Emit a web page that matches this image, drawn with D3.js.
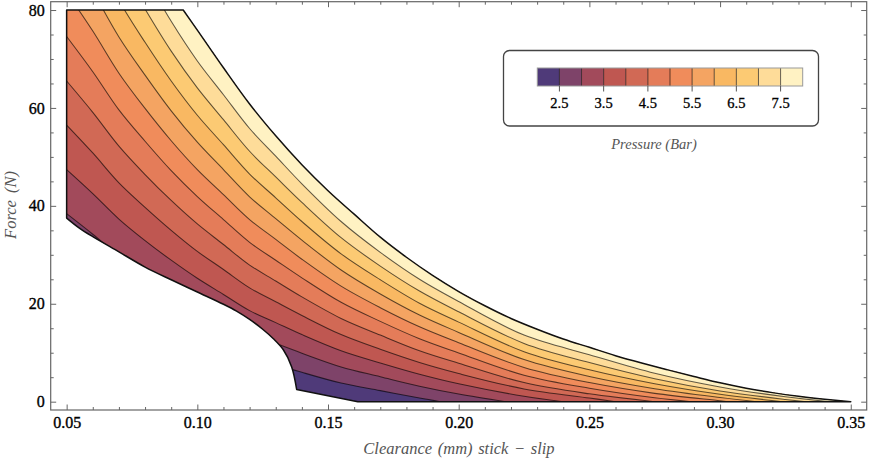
<!DOCTYPE html>
<html><head><meta charset="utf-8">
<script src="https://cdn.jsdelivr.net/npm/d3@7"></script>
<style>html,body{margin:0;padding:0;background:#fff;} svg{display:block;}</style>
</head><body>
<svg id="chart" width="869" height="463"></svg>
<script>
// ---------------- data ----------------
const xMajorTicks = [0.05, 0.10, 0.15, 0.20, 0.25, 0.30, 0.35];
const yMajorTicks = [0, 20, 40, 60, 80];
const legendTickValues = [2.5, 3.5, 4.5, 5.5, 6.5, 7.5];
const levels = [2.5, 3.0, 3.5, 4.0, 4.5, 5.0, 5.5, 6.0, 6.5, 7.0, 7.5];
const bandEdges = [2.0, 2.5, 3.0, 3.5, 4.0, 4.5, 5.0, 5.5, 6.0, 6.5, 7.0, 7.5, 8.0];
const bandColors = ["#4f3a79", "#7e4369", "#a24a5b", "#bf5751", "#d16955", "#e47c59",
                    "#f08c5b", "#f4a462", "#f9b862", "#fcca73", "#fedc99", "#fff2c3"];

// outer boundary of the feasible region (Pressure = 8 bar edge)
const upperEdge = [[0.0946,80],[0.10,75.9],[0.11,68.2],[0.12,60.8],[0.13,54.3],[0.14,48.4],[0.15,43.1],
  [0.16,38.3],[0.17,33.6],[0.18,29.5],[0.19,25.8],[0.20,22.5],[0.21,19.6],[0.22,17.0],[0.23,14.8],
  [0.24,12.8],[0.25,11.1],[0.26,9.4],[0.27,7.9],[0.28,6.5],[0.29,5.15],[0.30,3.85],[0.31,2.75],
  [0.32,1.85],[0.33,1.1],[0.34,0.5],[0.35,0]];
// stick-slip limit (lower-left edge)
const lowerEdge = [[0.05,37.5],[0.055,35.4],[0.06,33.7],[0.07,30.6],[0.08,27.5],[0.09,24.9],[0.10,22.4],
  [0.11,19.9],[0.115,18.5],[0.12,16.8],[0.125,14.8],[0.129,12.9],[0.1329,10.6],[0.1361,7.1],[0.1380,2.5]];
const lowerFoot = [0.1614, 0];
const leftTop = [0.05, 80];

// contour lines (Clearance mm, Force N)
const contour25 = [[0.05,29.3],[0.06,25.9],[0.07,22.4],[0.08,19.4],[0.09,16.7],[0.10,14.1],[0.11,11.7],[0.12,9.3],[0.13,7.65],[0.14,6.0],[0.155,3.8],[0.17,2.26],[0.185,0.73],[0.193,0]];
const contour30 = [[0.05,38.4],[0.06,34.2],[0.07,29.8],[0.08,26.2],[0.09,22.8],[0.10,19.6],[0.11,16.8],[0.12,13.95],[0.13,11.9],[0.14,9.9],[0.155,7.1],[0.17,5.1],[0.185,3.15],[0.20,1.55],[0.218,0]];
const contour35 = [[0.05,47.4],[0.06,42.5],[0.07,37.3],[0.08,32.9],[0.09,28.9],[0.10,25.2],[0.11,21.9],[0.12,18.6],[0.13,16.15],[0.14,13.7],[0.155,10.4],[0.17,7.9],[0.185,5.6],[0.20,3.65],[0.225,1.1],[0.24,0]];
const contour40 = [[0.05,56.5],[0.06,50.8],[0.07,44.7],[0.08,39.7],[0.09,35.0],[0.10,30.7],[0.11,27.0],[0.12,23.25],[0.13,20.4],[0.14,17.6],[0.155,13.7],[0.17,10.7],[0.185,8.0],[0.20,5.75],[0.225,2.6],[0.25,0.75],[0.26,0]];
const contour45 = [[0.05,65.5],[0.06,59.1],[0.07,52.2],[0.08,46.4],[0.09,41.1],[0.10,36.3],[0.11,32.1],[0.12,27.9],[0.13,24.65],[0.14,21.4],[0.155,17.0],[0.17,13.6],[0.185,10.4],[0.20,7.85],[0.225,3.9],[0.25,1.6],[0.275,0]];
const contour50 = [[0.05,74.6],[0.06,67.4],[0.07,59.6],[0.08,53.2],[0.09,47.2],[0.10,41.9],[0.11,37.2],[0.12,32.55],[0.13,28.9],[0.14,25.3],[0.155,20.3],[0.17,16.4],[0.185,12.85],[0.20,9.95],[0.225,5.4],[0.25,2.75],[0.275,0.8],[0.289,0]];
const contour55 = [[0.05,83.6],[0.06,75.7],[0.07,67.1],[0.08,59.9],[0.09,53.3],[0.10,47.4],[0.11,42.3],[0.12,37.2],[0.13,33.15],[0.14,29.1],[0.155,23.6],[0.17,19.2],[0.185,15.3],[0.20,12.05],[0.225,7.0],[0.25,3.9],[0.275,1.7],[0.30,0.2],[0.303,0]];
const contour60 = [[0.06,84.0],[0.07,74.5],[0.08,66.7],[0.09,59.4],[0.10,53.0],[0.11,47.4],[0.12,41.85],[0.13,37.4],[0.14,33.0],[0.155,26.9],[0.17,22.0],[0.185,17.7],[0.20,14.15],[0.225,8.6],[0.25,5.15],[0.275,2.65],[0.30,0.85],[0.314,0]];
const contour65 = [[0.06,92.3],[0.07,81.95],[0.08,73.4],[0.09,65.5],[0.10,58.5],[0.11,52.5],[0.12,46.5],[0.13,41.65],[0.14,36.8],[0.155,30.2],[0.17,24.9],[0.185,20.1],[0.20,16.25],[0.225,10.2],[0.25,6.5],[0.275,3.65],[0.30,1.5],[0.324,0]];
const contour70 = [[0.07,89.4],[0.08,80.2],[0.09,71.6],[0.10,64.1],[0.11,57.6],[0.12,51.15],[0.13,45.9],[0.14,40.7],[0.155,33.5],[0.17,27.7],[0.185,22.6],[0.20,18.35],[0.225,11.9],[0.25,8.0],[0.275,4.7],[0.30,2.2],[0.325,0.45],[0.333,0]];
const contour75 = [[0.08,86.9],[0.09,77.7],[0.10,69.6],[0.11,62.7],[0.12,55.8],[0.13,50.15],[0.14,44.5],[0.155,36.8],[0.17,30.5],[0.185,25.0],[0.20,20.45],[0.225,13.6],[0.25,9.6],[0.275,5.8],[0.30,3.0],[0.325,1.0],[0.342,0]];
const contours = [contour25, contour30, contour35, contour40, contour45, contour50,
                  contour55, contour60, contour65, contour70, contour75];

const xLabel = "Clearance (mm) stick \u2212 slip";
const yLabel = "Force (N)";
const legendTitle = "Pressure (Bar)";

// ---------------- layout ----------------
const frame = {left: 50.7, right: 866.7, top: 1.7, bottom: 410};
const xS = d3.scaleLinear().domain([0.0439, 0.3561]).range([frame.left, frame.right]);
const yS = d3.scaleLinear().domain([-1.7, 81.7]).range([frame.bottom, frame.top]);
const serif = "'Liberation Serif','Times New Roman',serif";

const svg = d3.select("#chart");
const lg = d3.line().x(d => xS(d[0])).y(d => yS(d[1])).curve(d3.curveCatmullRom.alpha(0.5));
const seg = pts => lg(pts).replace(/^M/, "L");
const P = (x, y) => `${xS(x)},${yS(y)}`;

const regionD = `M${P(leftTop[0], leftTop[1])}` + seg(upperEdge) +
  `L${P(lowerFoot[0], lowerFoot[1])}` + seg(lowerEdge.slice().reverse()) + "Z";

svg.append("defs").append("clipPath").attr("id", "region")
  .append("path").attr("d", regionD);

const plot = svg.append("g").attr("clip-path", "url(#region)");
plot.append("path").attr("d", regionD).attr("fill", bandColors[0]);

contours.forEach((pts, i) => {
  const last = pts[pts.length - 1];
  const d = `M${P(0.04, pts[0][1])}` + seg(pts) +
    `L${P(last[0] + 0.003, -5)}L${P(0.40, -5)}L${P(0.40, 200)}L${P(0.04, 200)}Z`;
  plot.append("path").attr("d", d).attr("fill", bandColors[i + 1]);
});
contours.forEach(pts => {
  plot.append("path").attr("d", lg(pts)).attr("fill", "none")
    .attr("stroke", "#000").attr("stroke-opacity", 0.62).attr("stroke-width", 1.05);
});
svg.append("path").attr("d", regionD).attr("fill", "none")
  .attr("stroke", "#111").attr("stroke-width", 1.5).attr("stroke-linejoin", "round");

// ---------------- frame & ticks ----------------
const frameColor = "#666";
svg.append("rect").attr("x", frame.left).attr("y", frame.top)
  .attr("width", frame.right - frame.left).attr("height", frame.bottom - frame.top)
  .attr("fill", "none").attr("stroke", frameColor).attr("stroke-width", 1.2);

const xMinor = d3.range(5, 36).map(v => v / 100).filter(v => !xMajorTicks.some(m => Math.abs(m - v) < 1e-9));
const yMinor = d3.range(0, 81, 5).filter(v => !yMajorTicks.includes(v));

function styleAxis(g) {
  g.select(".domain").remove();
  g.selectAll("line").attr("stroke", frameColor);
  g.selectAll("text").attr("font-family", serif).attr("font-size", 16).attr("fill", "#000")
    .attr("stroke", "#000").attr("stroke-width", 0.35);
}
svg.append("g").attr("transform", `translate(0,${frame.bottom})`)
  .call(d3.axisBottom(xS).tickValues(xMajorTicks).tickSize(-5.5).tickPadding(6.5).tickFormat(d3.format(".2f"))).call(styleAxis);
svg.append("g").attr("transform", `translate(0,${frame.bottom})`)
  .call(d3.axisBottom(xS).tickValues(xMinor).tickSize(-3).tickFormat("")).call(styleAxis);
svg.append("g").attr("transform", `translate(0,${frame.top})`)
  .call(d3.axisTop(xS).tickValues(xMajorTicks).tickSize(-5.5).tickFormat("")).call(styleAxis);
svg.append("g").attr("transform", `translate(0,${frame.top})`)
  .call(d3.axisTop(xS).tickValues(xMinor).tickSize(-3).tickFormat("")).call(styleAxis);
svg.append("g").attr("transform", `translate(${frame.left},0)`)
  .call(d3.axisLeft(yS).tickValues(yMajorTicks).tickSize(-5.5).tickPadding(6).tickFormat(d3.format("d"))).call(styleAxis);
svg.append("g").attr("transform", `translate(${frame.left},0)`)
  .call(d3.axisLeft(yS).tickValues(yMinor).tickSize(-3).tickFormat("")).call(styleAxis);
svg.append("g").attr("transform", `translate(${frame.right},0)`)
  .call(d3.axisRight(yS).tickValues(yMajorTicks).tickSize(-5.5).tickFormat("")).call(styleAxis);
svg.append("g").attr("transform", `translate(${frame.right},0)`)
  .call(d3.axisRight(yS).tickValues(yMinor).tickSize(-3).tickFormat("")).call(styleAxis);

// axis labels
svg.append("text").attr("x", 459).attr("y", 454).attr("text-anchor", "middle")
  .attr("font-family", serif).attr("font-style", "italic").attr("font-size", 16.5)
  .attr("word-spacing", 1.5).attr("fill", "#555")
  .text(xLabel);
svg.append("text").attr("transform", "translate(16,205) rotate(-90)").attr("text-anchor", "middle")
  .attr("font-family", serif).attr("font-style", "italic").attr("font-size", 16.5)
  .attr("word-spacing", 3).attr("fill", "#555")
  .text(yLabel);

// ---------------- legend ----------------
const lgX = d3.scaleLinear().domain([bandEdges[0], bandEdges[bandEdges.length - 1]]).range([537.3, 802.7]);
const barTop = 68, barH = 18;
const leg = svg.append("g");
leg.append("rect").attr("x", 503.5).attr("y", 50.5).attr("width", 315).attr("height", 75.5)
  .attr("rx", 6).attr("fill", "#fff").attr("stroke", "#444").attr("stroke-width", 1.3);
leg.selectAll("rect.cell").data(bandColors).join("rect").attr("class", "cell")
  .attr("x", (d, i) => lgX(bandEdges[i])).attr("y", barTop)
  .attr("width", (d, i) => lgX(bandEdges[i + 1]) - lgX(bandEdges[i])).attr("height", barH)
  .attr("fill", d => d);
leg.selectAll("line.div").data(levels).join("line").attr("class", "div")
  .attr("x1", d => lgX(d)).attr("x2", d => lgX(d)).attr("y1", barTop).attr("y2", barTop + barH)
  .attr("stroke", "#000").attr("stroke-opacity", 0.6).attr("stroke-width", 1);
leg.append("rect").attr("x", lgX(bandEdges[0])).attr("y", barTop)
  .attr("width", lgX(bandEdges[bandEdges.length - 1]) - lgX(bandEdges[0])).attr("height", barH)
  .attr("fill", "none").attr("stroke", "#999").attr("stroke-width", 1);
leg.selectAll("line.tk").data(legendTickValues).join("line").attr("class", "tk")
  .attr("x1", d => lgX(d)).attr("x2", d => lgX(d)).attr("y1", barTop + barH).attr("y2", barTop + barH + 5.5)
  .attr("stroke", "#555").attr("stroke-width", 1);
leg.selectAll("text.tl").data(legendTickValues).join("text").attr("class", "tl")
  .attr("x", d => lgX(d)).attr("y", 108).attr("text-anchor", "middle")
  .attr("font-family", serif).attr("font-size", 14.5).attr("fill", "#000")
  .attr("stroke", "#000").attr("stroke-width", 0.3)
  .text(d => d3.format(".1f")(d));
svg.append("text").attr("x", 654).attr("y", 149).attr("text-anchor", "middle")
  .attr("font-family", serif).attr("font-style", "italic").attr("font-size", 14.5).attr("fill", "#555")
  .text(legendTitle);
</script>
</body></html>
